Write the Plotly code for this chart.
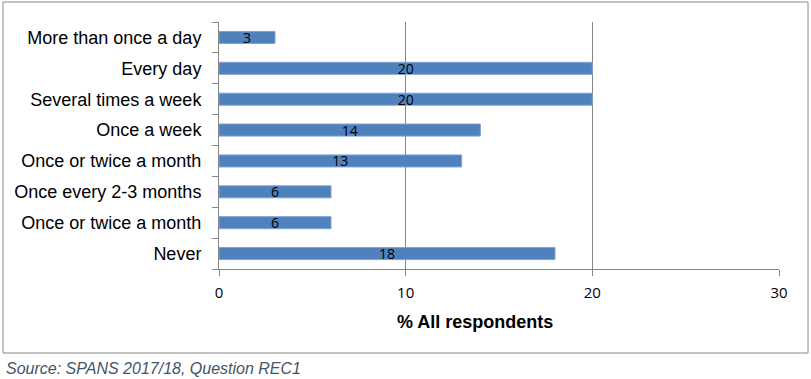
import plotly.graph_objects as go

categories = ["More than once a day", "Every day", "Several times a week", "Once a week",
              "Once or twice a month", "Once every 2-3 months", "Once or twice a month", "Never"]
values = [3, 20, 20, 14, 13, 6, 6, 18]
x_ticks = [0, 10, 20, 30]
x_title = "% All respondents"
source_text = "Source: SPANS 2017/18, Question REC1"

W, H = 811, 379
L, R, T, B = 219, 32, 22, 110
pw = W - L - R
ph = H - T - B

def px_x(p):
    return (p - L) / pw

def px_y(p):
    return (H - B - p) / ph

pos = list(range(len(categories)))

fig = go.Figure(go.Bar(
    x=values, y=pos, orientation="h",
    marker=dict(color="#4F81BD", line=dict(color="#7FA3D3", width=1)),
    width=0.39,
    text=[str(v) for v in values],
    textposition="inside", insidetextanchor="middle", constraintext="none", textangle=0,
    textfont=dict(family="Open Sans", size=14, color="#000000"),
    cliponaxis=False, hoverinfo="skip",
))

fig.update_layout(
    width=W, height=H,
    margin=dict(l=L, r=R, t=T, b=B, autoexpand=False),
    paper_bgcolor="white", plot_bgcolor="white",
    showlegend=False,
    xaxis=dict(range=[0, 30], tickvals=x_ticks, showgrid=True, gridcolor="#868686", gridwidth=1,
               showline=True, linecolor="#868686", linewidth=1, ticks="outside", ticklen=6,
               tickcolor="#868686", zeroline=False, automargin=False, ticklabelstandoff=4,
               tickfont=dict(family="Open Sans", size=15, color="#000000")),
    yaxis=dict(range=[len(categories) - 0.5, -0.5], tickvals=pos, ticktext=categories,
               ticks="", showline=True, linecolor="#868686", linewidth=1, showgrid=False,
               zeroline=False, ticklabelstandoff=13, automargin=False,
               tickfont=dict(family="Liberation Sans", size=18, color="#000000"),
               minor=dict(tickvals=[p - 0.5 for p in pos] + [len(categories) - 0.5],
                          ticks="outside", ticklen=6, tickcolor="#868686", showgrid=False)),
    shapes=[dict(type="rect", xref="paper", yref="paper",
                 x0=px_x(3), x1=px_x(808), y0=px_y(353), y1=px_y(2),
                 line=dict(color="#888888", width=1), fillcolor="rgba(0,0,0,0)", layer="below")],
    annotations=[
        dict(text="<b>" + x_title + "</b>", xref="paper", yref="paper", x=px_x(475), y=px_y(322),
             showarrow=False, xanchor="center", yanchor="middle",
             font=dict(family="Liberation Sans", size=18, color="#000000")),
        dict(text="<i>" + source_text + "</i>", xref="paper", yref="paper", x=px_x(4), y=px_y(368),
             showarrow=False, xanchor="left", yanchor="middle",
             font=dict(family="Liberation Sans", size=16, color="#44546A")),
    ],
)

fig.write_html("out.html", config={"displayModeBar": False, "staticPlot": True},
               post_script="document.body.style.margin='0';document.body.style.overflow='hidden';")
